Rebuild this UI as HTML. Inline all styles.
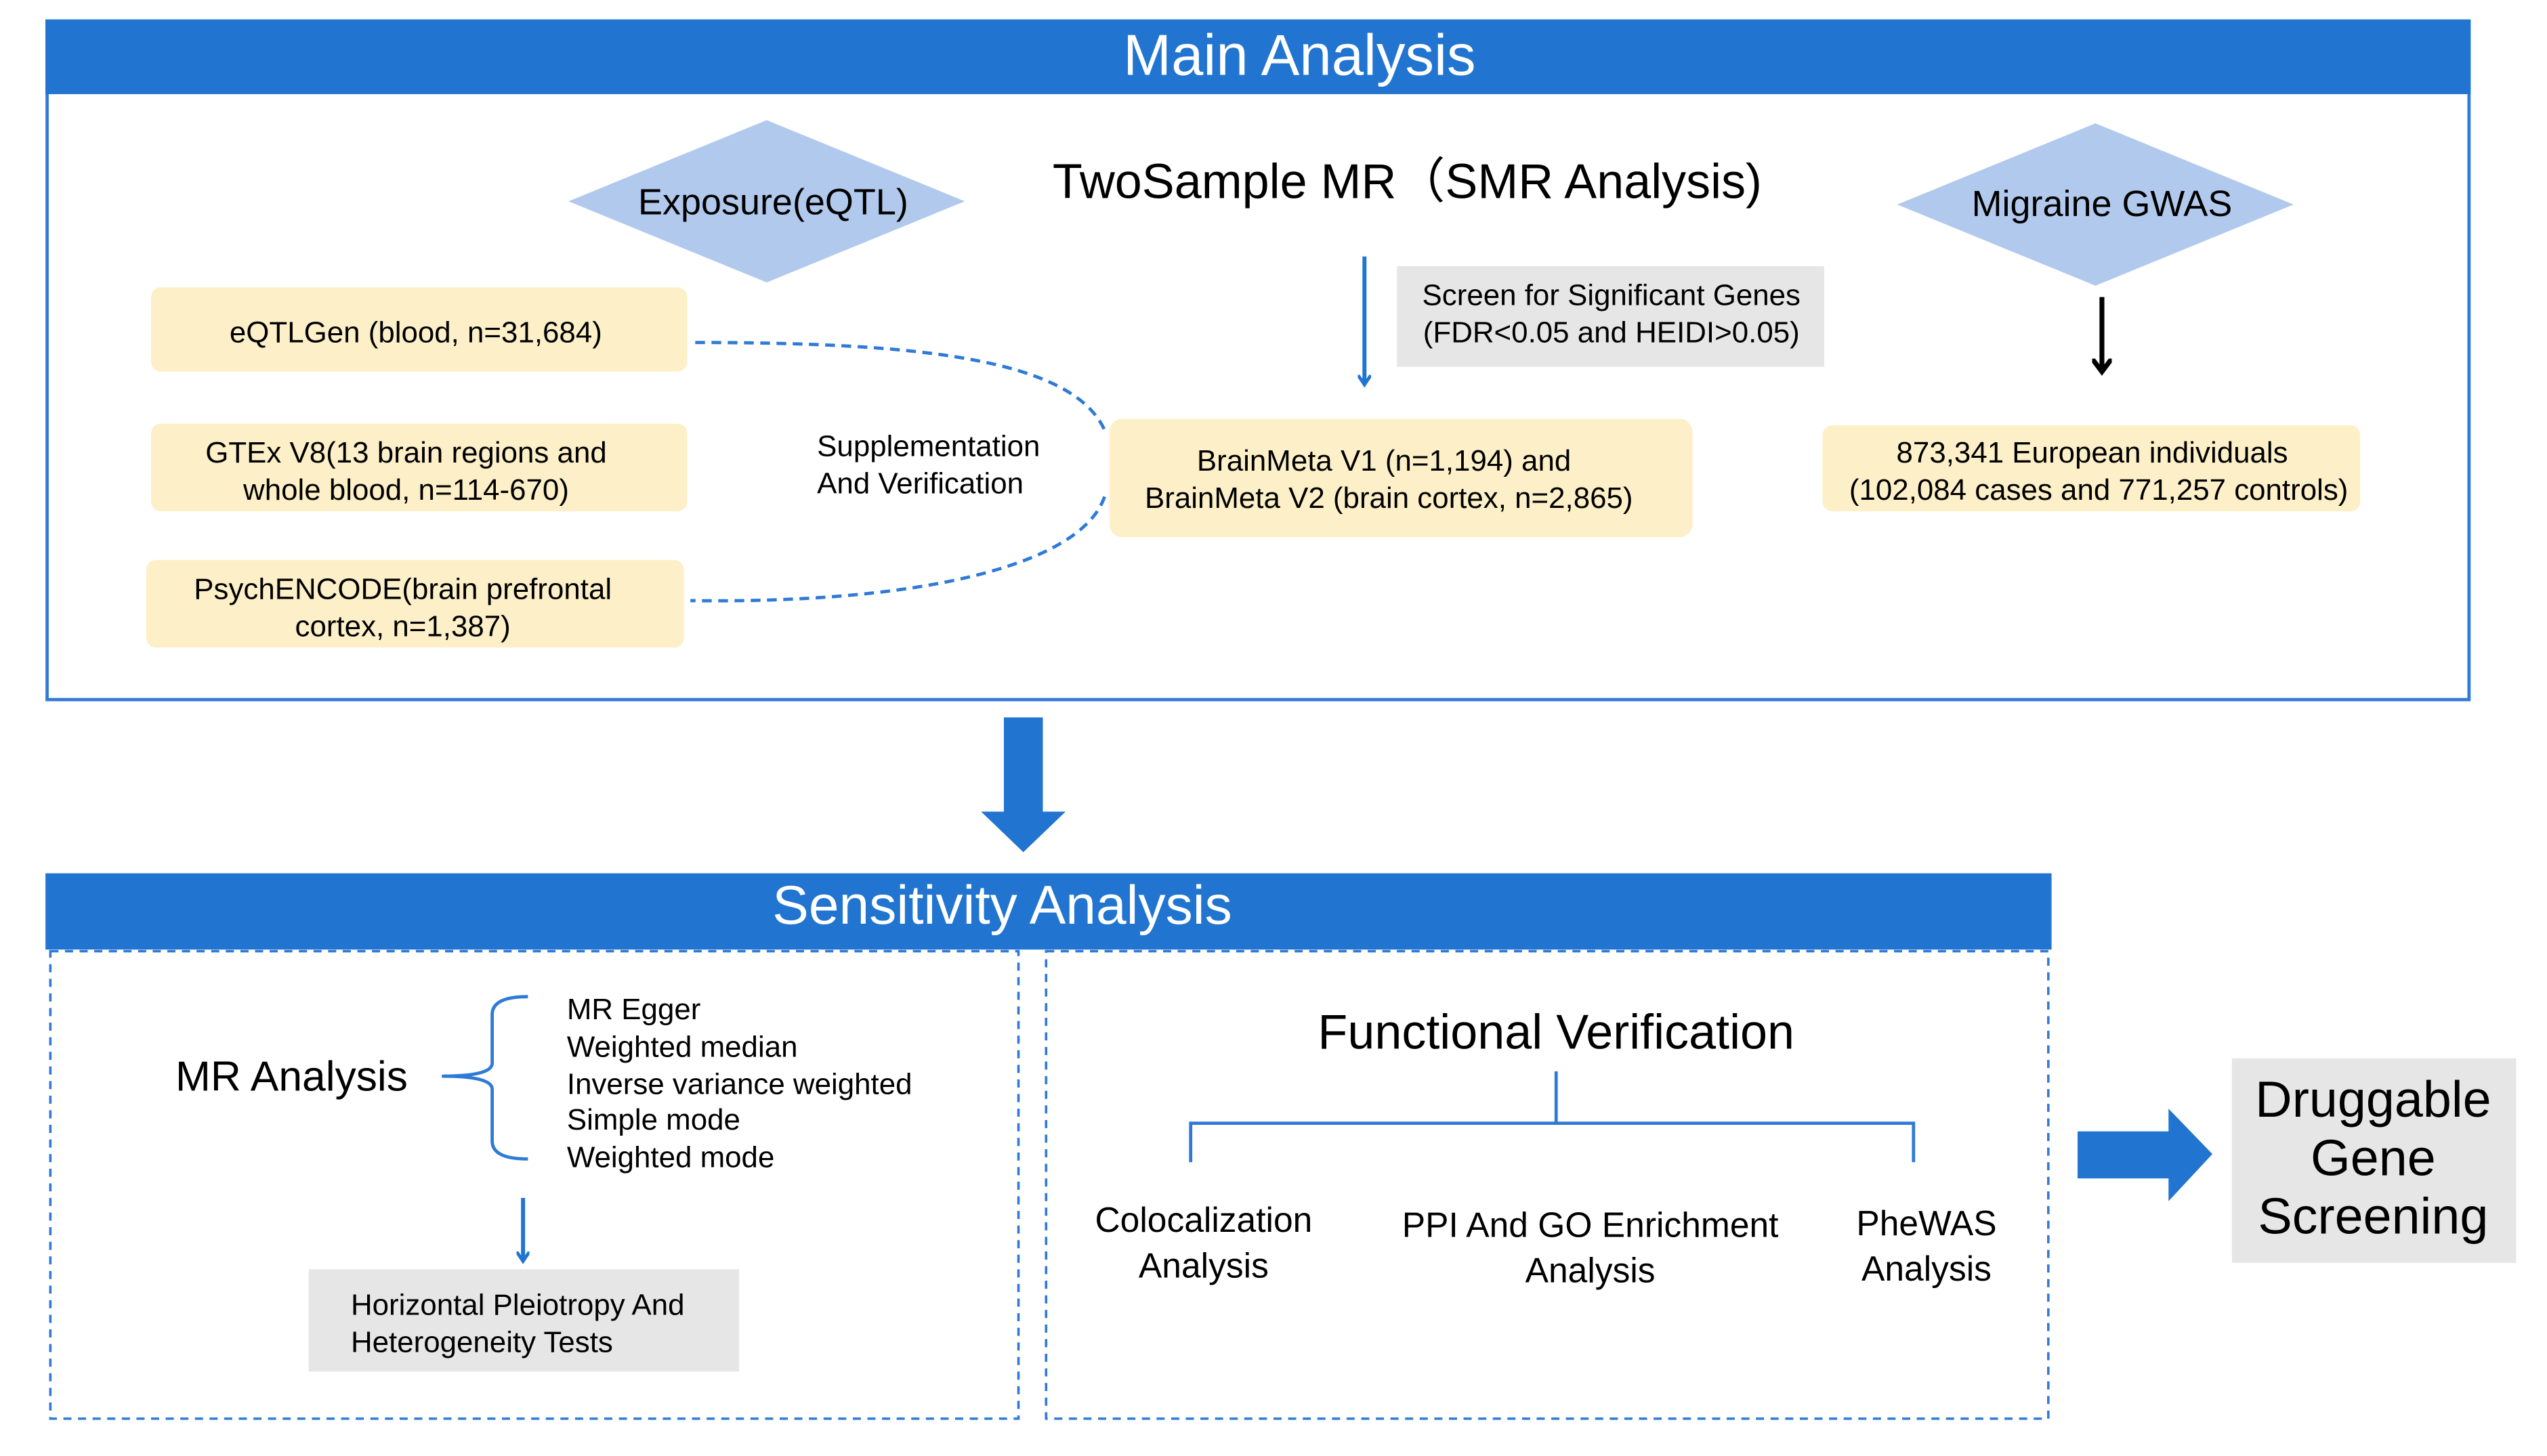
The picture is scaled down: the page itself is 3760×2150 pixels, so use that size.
<!DOCTYPE html>
<html><head><meta charset="utf-8"><style>html,body{margin:0;padding:0;background:#fff}svg{display:block}</style></head>
<body>
<svg width="3760" height="2150" viewBox="0 0 1568 897" preserveAspectRatio="none" xmlns="http://www.w3.org/2000/svg" font-family="Liberation Sans, sans-serif">
<defs>
<marker id="ab" markerWidth="8" markerHeight="8" refX="5" refY="4" orient="auto" markerUnits="userSpaceOnUse"><path d="M0,0 L6,4 L0,8" fill="none" stroke="#2175d0" stroke-width="2"/></marker>
<marker id="ak" markerWidth="12" markerHeight="12" refX="7" refY="6" orient="auto" markerUnits="userSpaceOnUse"><path d="M0,0 L8,6 L0,12" fill="none" stroke="#000" stroke-width="3"/></marker>
</defs>
<rect x="29" y="13" width="1491" height="418" fill="#fff" stroke="#2f7ad6" stroke-width="2"/>
<rect x="28" y="12" width="1493" height="46" fill="#2175d0"/>
<text x="800" y="46" font-size="35.5" fill="#fff" text-anchor="middle">Main Analysis</text>
<polygon points="350,124 472,74 594,124 472,174" fill="#b1c9ec"/>
<text x="476" y="132" font-size="22.5" text-anchor="middle">Exposure(eQTL)</text>
<polygon points="1168,126 1290,76 1412,126 1290,176" fill="#b1c9ec"/>
<text x="1294" y="133" font-size="22.5" text-anchor="middle">Migraine GWAS</text>
<text x="648" y="122" font-size="30">TwoSample MR（SMR Analysis)</text>
<line x1="840" y1="158" x2="840" y2="236" stroke="#2175d0" stroke-width="2.5" marker-end="url(#ab)"/>
<rect x="860" y="164" width="263" height="62" fill="#e6e6e6"/>
<text x="992" y="188" font-size="18.3" text-anchor="middle">Screen for Significant Genes</text>
<text x="992" y="211" font-size="18.3" text-anchor="middle">(FDR&lt;0.05 and HEIDI&gt;0.05)</text>
<line x1="1294" y1="183" x2="1294" y2="228" stroke="#000" stroke-width="3" marker-end="url(#ak)"/>
<g fill="#fdf0c8">
<rect x="93" y="177" width="330" height="52" rx="6"/>
<rect x="93" y="261" width="330" height="54" rx="6"/>
<rect x="90" y="345" width="331" height="54" rx="6"/>
<rect x="683" y="258" width="359" height="73" rx="8"/>
<rect x="1122" y="262" width="331" height="53" rx="6"/>
</g>
<g font-size="18.3" text-anchor="middle">
<text x="256" y="211">eQTLGen (blood, n=31,684)</text>
<text x="250" y="285">GTEx V8(13 brain regions and</text>
<text x="250" y="308">whole blood, n=114-670)</text>
<text x="248" y="369">PsychENCODE(brain prefrontal</text>
<text x="248" y="392">cortex, n=1,387)</text>
<text x="852" y="290">BrainMeta V1 (n=1,194) and</text>
<text x="855" y="313">BrainMeta V2 (brain cortex, n=2,865)</text>
<text x="1288" y="285">873,341 European individuals</text>
<text x="1292" y="308">(102,084 cases and 771,257 controls)</text>
</g>
<text x="503" y="281" font-size="18.3">Supplementation</text>
<text x="503" y="304" font-size="18.3">And Verification</text>
<path d="M428,211 C560,211 660,220 680,265" fill="none" stroke="#2f7ad6" stroke-width="2" stroke-dasharray="6,4"/>
<path d="M680,306 C665,350 560,372 425,370" fill="none" stroke="#2f7ad6" stroke-width="2" stroke-dasharray="6,4"/>
<polygon points="618,442 642,442 642,500 656,500 630,525 604,500 618,500" fill="#2175d0"/>
<rect x="28" y="538" width="1235" height="47" fill="#2175d0"/>
<text x="617" y="569" font-size="33.5" fill="#fff" text-anchor="middle">Sensitivity Analysis</text>
<rect x="31" y="586" width="596" height="288" fill="none" stroke="#2f7ad6" stroke-width="1.5" stroke-dasharray="5,4"/>
<rect x="644" y="586" width="617" height="288" fill="none" stroke="#2f7ad6" stroke-width="1.5" stroke-dasharray="5,4"/>
<text x="108" y="672" font-size="26">MR Analysis</text>
<path d="M325,614 Q303,614 303,625 L303,655 Q303,663 272,663 Q303,663 303,671 L303,703 Q303,714 325,714" fill="none" stroke="#2f7ad6" stroke-width="2"/>
<g font-size="18.3">
<text x="349" y="628">MR Egger</text>
<text x="349" y="651">Weighted median</text>
<text x="349" y="674">Inverse variance weighted</text>
<text x="349" y="696">Simple mode</text>
<text x="349" y="719">Weighted mode</text>
</g>
<line x1="322" y1="738" x2="322" y2="776" stroke="#2175d0" stroke-width="2.5" marker-end="url(#ab)"/>
<rect x="190" y="782" width="265" height="63" fill="#e6e6e6"/>
<text x="216" y="810" font-size="18.3">Horizontal Pleiotropy And</text>
<text x="216" y="833" font-size="18.3">Heterogeneity Tests</text>
<text x="958" y="646" font-size="30" text-anchor="middle">Functional Verification</text>
<path d="M958,660 V692 M733,716 V692 H1178 V716" fill="none" stroke="#2f7ad6" stroke-width="2"/>
<g font-size="21.5" text-anchor="middle">
<text x="741" y="759">Colocalization</text>
<text x="741" y="787">Analysis</text>
<text x="979" y="762">PPI And GO Enrichment</text>
<text x="979" y="790">Analysis</text>
<text x="1186" y="761">PheWAS</text>
<text x="1186" y="789">Analysis</text>
</g>
<polygon points="1279,697 1335,697 1335,683 1362,711 1335,740 1335,726 1279,726" fill="#2175d0"/>
<rect x="1374" y="652" width="175" height="126" fill="#e6e6e6"/>
<g font-size="31.5" text-anchor="middle">
<text x="1461" y="688">Druggable</text>
<text x="1461" y="724">Gene</text>
<text x="1461" y="760">Screening</text>
</g>
</svg>
</body></html>
